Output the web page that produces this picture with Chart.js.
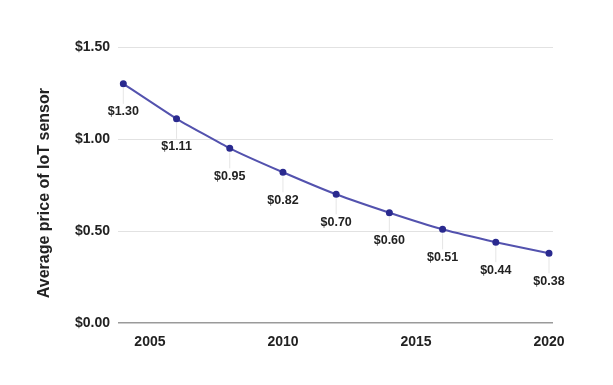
<!DOCTYPE html>
<html>
<head>
<meta charset="utf-8">
<script src="https://cdn.jsdelivr.net/npm/chart.js@4"></script>
<style>
html,body{margin:0;padding:0;background:#fff;}
#wrap{width:613px;height:385px;}
</style>
</head>
<body>
<div id="wrap"><canvas id="c" width="613" height="385"></canvas></div>
<script>
const years = [2004, 2006, 2008, 2010, 2012, 2014, 2016, 2018, 2020];
const prices = [1.30, 1.11, 0.95, 0.82, 0.70, 0.60, 0.51, 0.44, 0.38];
const xTicks = [2005, 2010, 2015, 2020];
const yTitle = 'Average price of IoT sensor';

const fmt = v => '$' + v.toFixed(2);
const FONT = '"Liberation Sans", Arial, sans-serif';

const labelPlugin = {
  id: 'pointLabels',
  afterDatasetsDraw(chart) {
    const ctx = chart.ctx;
    const meta = chart.getDatasetMeta(0);
    ctx.save();
    meta.data.forEach((pt, i) => {
      ctx.strokeStyle = 'rgba(205,205,205,0.5)';
      ctx.lineWidth = 1;
      ctx.beginPath();
      ctx.moveTo(pt.x, pt.y + 4);
      ctx.lineTo(pt.x, pt.y + 20);
      ctx.stroke();
      ctx.fillStyle = '#222';
      ctx.font = 'bold 12.5px ' + FONT;
      ctx.textAlign = 'center';
      ctx.textBaseline = 'middle';
      ctx.fillText(fmt(prices[i]), pt.x, pt.y + 28);
    });
    // y axis title
    const ca = chart.chartArea;
    ctx.translate(45, (ca.top + ca.bottom) / 2 + 8);
    ctx.rotate(-Math.PI / 2);
    ctx.font = 'bold 16px ' + FONT;
    ctx.fillStyle = '#222';
    ctx.textAlign = 'center';
    ctx.textBaseline = 'middle';
    ctx.fillText(yTitle, 0, 0);
    ctx.restore();
  }
};

new Chart(document.getElementById('c'), {
  type: 'line',
  data: {
    datasets: [{
      data: years.map((y, i) => ({x: y, y: prices[i]})),
      borderColor: '#5352ae',
      borderWidth: 2,
      pointBackgroundColor: '#2a2a8f',
      pointBorderColor: '#2a2a8f',
      pointRadius: 2.5,
      tension: 0.1,
      clip: false
    }]
  },
  options: {
    responsive: false,
    animation: false,
    layout: {padding: {left: 75, right: 60, top: 47, bottom: 31}},
    plugins: {legend: {display: false}, tooltip: {enabled: false}},
    scales: {
      x: {
        type: 'linear',
        min: 2003.8,
        max: 2020.15,
        afterBuildTicks(scale) { scale.ticks = xTicks.map(v => ({value: v})); },
        grid: {display: false},
        border: {display: false},
        ticks: {
          color: '#222',
          font: {family: FONT, size: 14, weight: 'bold'},
          padding: 3,
          maxRotation: 0,
          callback: v => String(v)
        }
      },
      y: {
        min: 0,
        max: 1.5,
        afterFit(scale) { scale.width = 43; },
        ticks: {
          stepSize: 0.5,
          color: '#222',
          font: {family: FONT, size: 14, weight: 'bold'},
          padding: 8,
          callback: v => fmt(v)
        },
        grid: {
          color: ctx => ctx.tick && ctx.tick.value === 0 ? '#9a9a9a' : '#e2e2e2',
          lineWidth: ctx => ctx.tick && ctx.tick.value === 0 ? 1.5 : 1,
          drawTicks: false
        },
        border: {display: false},
        title: {display: false}
      }
    }
  },
  plugins: [labelPlugin]
});
</script>
</body>
</html>
